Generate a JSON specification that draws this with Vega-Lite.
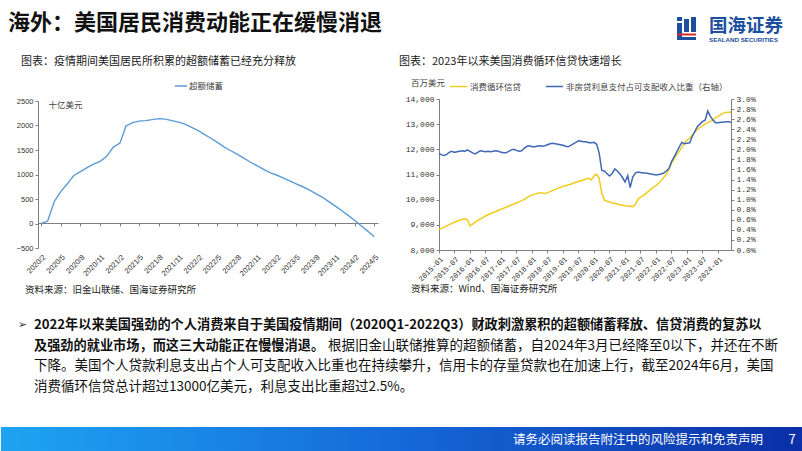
{
"$schema": "https://vega.github.io/schema/vega-lite/v6.json",
"background": "white",
"padding": 0,
"bounds": "flush",
"center": true,
"spacing": 0,
"resolve": {"scale": {"color": "independent"}, "legend": {"color": "independent"}},
"config": {
 "view": {"stroke": null},
 "font": "Noto Sans CJK SC",
 "axis": {"grid": false, "domainColor": "#7f7f7f", "tickColor": "#7f7f7f", "labelColor": "#333333", "tickSize": 3, "labelFontSize": 7.5, "domainWidth": 1},
 "legend": {"labelFont": "Noto Sans CJK SC"}
},
"hconcat": [
 {
  "width": 37, "height": 151,
  "data": {"values": [{}]},
  "layer": [
   {"mark": {"type": "rect", "x": 0, "x2": 802, "y": -99, "y2": 352, "color": "white"}, "encoding": {}},
   {"mark": {"type": "rule", "x": 0.5, "x2": 0.5, "y": -99, "y2": 328, "color": "#a6a6a6", "strokeWidth": 1}, "encoding": {}},
   {"mark": {"type": "rule", "x": 801.5, "x2": 801.5, "y": -99, "y2": 328, "color": "#a6a6a6", "strokeWidth": 1}, "encoding": {}},
   {"mark": {"type": "rule", "x": 0, "x2": 802, "y": -98.5, "y2": -98.5, "color": "#a6a6a6", "strokeWidth": 1}, "encoding": {}},
   {"mark": {"type": "text", "x": 7, "y": -76, "text": "海外：美国居民消费动能正在缓慢消退", "fontSize": 22, "fontWeight": "bold", "align": "left", "baseline": "middle", "color": "#111111"}, "encoding": {}},
   {"mark": {"type": "rule", "x": 0, "x2": 655, "y": -57, "y2": -57, "color": "#2563c0", "strokeWidth": 2.2}, "encoding": {}},
   {"mark": {"type": "rect", "x": 676, "x2": 681, "y": -82, "y2": -78, "color": "#1d4f9f"}, "encoding": {}},
   {"mark": {"type": "rect", "x": 676, "x2": 681, "y": -76, "y2": -62, "color": "#1d4f9f"}, "encoding": {}},
   {"mark": {"type": "rect", "x": 690, "x2": 695, "y": -82, "y2": -67, "color": "#1d4f9f"}, "encoding": {}},
   {"mark": {"type": "rect", "x": 683, "x2": 688, "y": -80, "y2": -67, "color": "#1d4f9f"}, "encoding": {}},
   {"mark": {"type": "rect", "x": 676, "x2": 695, "y": -65.5, "y2": -63.5, "color": "#d7282f"}, "encoding": {}},
   {"mark": {"type": "rect", "x": 676, "x2": 695, "y": -62, "y2": -59, "color": "#1d4f9f"}, "encoding": {}},
   {"mark": {"type": "text", "x": 708, "y": -73.5, "text": "国海证券", "fontSize": 18.5, "fontWeight": "bold", "align": "left", "baseline": "middle", "color": "#1d4f9f"}, "encoding": {}},
   {"mark": {"type": "text", "x": 708, "y": -59.5, "text": "SEALAND SECURITIES", "font": "Liberation Sans", "fontSize": 6.2, "fontWeight": "bold", "align": "left", "baseline": "middle", "color": "#1d4f9f"}, "encoding": {}},
   {"mark": {"type": "text", "x": 20, "y": -37, "text": "图表：疫情期间美国居民所积累的超额储蓄已经充分释放", "fontSize": 11, "align": "left", "baseline": "middle", "color": "#1a1a1a"}, "encoding": {}},
   {"mark": {"type": "text", "x": 398, "y": -37, "text": "图表：2023年以来美国消费循环信贷快速增长", "fontSize": 11, "align": "left", "baseline": "middle", "color": "#1a1a1a"}, "encoding": {}},
   {"mark": {"type": "text", "x": 410, "y": -16, "text": "百万美元", "fontSize": 8.5, "align": "left", "baseline": "middle", "color": "#444444"}, "encoding": {}},
   {"mark": {"type": "text", "x": 24, "y": 191, "text": "资料来源：旧金山联储、国海证券研究所", "fontSize": 9.5, "align": "left", "baseline": "middle", "color": "#222222"}, "encoding": {}},
   {"mark": {"type": "text", "x": 410, "y": 190, "text": "资料来源：Wind、国海证券研究所", "fontSize": 9.5, "align": "left", "baseline": "middle", "color": "#222222"}, "encoding": {}},
   {"mark": {"type": "text", "x": 17, "y": 226, "text": "➢", "font": "DejaVu Sans", "fontSize": 11, "align": "left", "baseline": "middle", "color": "#333333"}, "encoding": {}},
   {"mark": {"type": "text", "x": 33, "y": 226, "text": "2022年以来美国强劲的个人消费来自于美国疫情期间（2020Q1-2022Q3）财政刺激累积的超额储蓄释放、信贷消费的复苏以", "fontSize": 13.2, "fontWeight": "bold", "align": "left", "baseline": "middle", "color": "#111111"}, "encoding": {}},
   {"mark": {"type": "text", "x": 33, "y": 246.5, "text": "及强劲的就业市场，而这三大动能正在慢慢消退。", "fontSize": 13.2, "fontWeight": "bold", "align": "left", "baseline": "middle", "color": "#111111"}, "encoding": {}},
   {"mark": {"type": "text", "x": 327, "y": 246.5, "text": "根据旧金山联储推算的超额储蓄，自2024年3月已经降至0以下，并还在不断", "fontSize": 13.5, "align": "left", "baseline": "middle", "color": "#111111"}, "encoding": {}},
   {"mark": {"type": "text", "x": 33, "y": 267, "text": "下降。美国个人贷款利息支出占个人可支配收入比重也在持续攀升，信用卡的存量贷款也在加速上行，截至2024年6月，美国", "fontSize": 13.5, "align": "left", "baseline": "middle", "color": "#111111"}, "encoding": {}},
   {"mark": {"type": "text", "x": 33, "y": 288, "text": "消费循环信贷总计超过13000亿美元，利息支出比重超过2.5%。", "fontSize": 13.5, "align": "left", "baseline": "middle", "color": "#111111"}, "encoding": {}},
   {"mark": {"type": "rect", "x": 0, "x2": 802, "y": 328, "y2": 352,
     "fill": {"gradient": "linear", "x1": 0, "y1": 0, "x2": 1, "y2": 0, "stops": [{"offset": 0, "color": "#1ea4f2"}, {"offset": 0.5, "color": "#1569d9"}, {"offset": 1, "color": "#0b2fa6"}]}}, "encoding": {}},
   {"mark": {"type": "text", "x": 762, "y": 340.5, "text": "请务必阅读报告附注中的风险提示和免责声明", "fontSize": 12.5, "align": "right", "baseline": "middle", "color": "white"}, "encoding": {}},
   {"mark": {"type": "text", "x": 791, "y": 340.5, "text": "7", "fontSize": 13, "align": "center", "baseline": "middle", "color": "white"}, "encoding": {}}
  ]
 },
 {
  "width": 340, "height": 147,
  "data": {"values": [
   {"d": "2020-02", "v": 0}, {"d": "2020-03", "v": 50}, {"d": "2020-04", "v": 450}, {"d": "2020-05", "v": 650},
   {"d": "2020-06", "v": 810}, {"d": "2020-07", "v": 980}, {"d": "2020-08", "v": 1060}, {"d": "2020-09", "v": 1140},
   {"d": "2020-10", "v": 1210}, {"d": "2020-11", "v": 1270}, {"d": "2020-12", "v": 1370}, {"d": "2021-01", "v": 1560},
   {"d": "2021-02", "v": 1640}, {"d": "2021-03", "v": 1990}, {"d": "2021-04", "v": 2060}, {"d": "2021-05", "v": 2090},
   {"d": "2021-06", "v": 2100}, {"d": "2021-07", "v": 2120}, {"d": "2021-08", "v": 2140}, {"d": "2021-09", "v": 2130},
   {"d": "2021-10", "v": 2100}, {"d": "2021-11", "v": 2070}, {"d": "2021-12", "v": 2030}, {"d": "2022-01", "v": 1960},
   {"d": "2022-02", "v": 1895}, {"d": "2022-03", "v": 1820}, {"d": "2022-04", "v": 1740}, {"d": "2022-05", "v": 1655},
   {"d": "2022-06", "v": 1565}, {"d": "2022-07", "v": 1490}, {"d": "2022-08", "v": 1415}, {"d": "2022-09", "v": 1335},
   {"d": "2022-10", "v": 1255}, {"d": "2022-11", "v": 1180}, {"d": "2022-12", "v": 1110}, {"d": "2023-01", "v": 1040},
   {"d": "2023-02", "v": 990}, {"d": "2023-03", "v": 935}, {"d": "2023-04", "v": 875}, {"d": "2023-05", "v": 815},
   {"d": "2023-06", "v": 755}, {"d": "2023-07", "v": 690}, {"d": "2023-08", "v": 615}, {"d": "2023-09", "v": 540},
   {"d": "2023-10", "v": 450}, {"d": "2023-11", "v": 360}, {"d": "2023-12", "v": 265}, {"d": "2024-01", "v": 165},
   {"d": "2024-02", "v": 60}, {"d": "2024-03", "v": -45}, {"d": "2024-04", "v": -155}, {"d": "2024-05", "v": -270}
  ], "format": {"parse": {"d": "date:'%Y-%m'"}}},
  "mark": {"type": "line", "strokeWidth": 1.4},
  "encoding": {
   "x": {"field": "d", "type": "temporal",
    "scale": {"domain": [{"year": 2020, "month": 1, "date": 16}, {"year": 2024, "month": 5, "date": 19}]},
    "axis": {"title": null, "format": "%Y/%-m", "labelAngle": -45, "labelOverlap": false, "offset": -25, "labelPadding": 27, "labelFont": "Liberation Sans", "labelFontSize": 7.5,
     "values": [
      {"year": 2020, "month": 2, "date": 1}, {"year": 2020, "month": 5, "date": 1}, {"year": 2020, "month": 8, "date": 1}, {"year": 2020, "month": 11, "date": 1},
      {"year": 2021, "month": 2, "date": 1}, {"year": 2021, "month": 5, "date": 1}, {"year": 2021, "month": 8, "date": 1}, {"year": 2021, "month": 11, "date": 1},
      {"year": 2022, "month": 2, "date": 1}, {"year": 2022, "month": 5, "date": 1}, {"year": 2022, "month": 8, "date": 1}, {"year": 2022, "month": 11, "date": 1},
      {"year": 2023, "month": 2, "date": 1}, {"year": 2023, "month": 5, "date": 1}, {"year": 2023, "month": 8, "date": 1}, {"year": 2023, "month": 11, "date": 1},
      {"year": 2024, "month": 2, "date": 1}, {"year": 2024, "month": 5, "date": 1}
     ]}},
   "y": {"field": "v", "type": "quantitative", "scale": {"domain": [-500, 2500], "nice": false},
    "axis": {"values": [-500, 0, 500, 1000, 1500, 2000, 2500], "format": "d", "labelOverlap": false, "labelFont": "Liberation Sans", "labelFontSize": 7.5,
     "title": "十亿美元", "titleAngle": 0, "titleX": 10, "titleY": 3, "titleAlign": "left", "titleBaseline": "middle", "titleFontSize": 8.5, "titleFontWeight": "normal", "titleColor": "#444444"}},
   "color": {"datum": "超额储蓄", "type": "nominal", "scale": {"domain": ["超额储蓄"], "range": ["#5b9bd5"]},
    "legend": {"orient": "none", "legendX": 136, "legendY": -22, "title": null, "symbolType": "stroke", "symbolSize": 150, "symbolStrokeWidth": 1.5, "labelFontSize": 8.5, "labelColor": "#444444", "labelOffset": 1}}
  }
 },
 {"width": 61, "height": 151, "data": {"values": []}, "mark": {"type": "point", "opacity": 0}},
 {
  "width": 292, "height": 151,
  "data": {"values": [
   {"d": "2015-01", "c": 8830, "p": 1.92}, {"d": "2015-02", "c": 8860, "p": 1.89}, {"d": "2015-03", "c": 8900, "p": 1.88}, {"d": "2015-04", "c": 8960, "p": 1.90},
   {"d": "2015-05", "c": 9010, "p": 1.94}, {"d": "2015-06", "c": 9060, "p": 1.96}, {"d": "2015-07", "c": 9100, "p": 1.94}, {"d": "2015-08", "c": 9140, "p": 1.95},
   {"d": "2015-09", "c": 9180, "p": 1.96}, {"d": "2015-10", "c": 9210, "p": 1.97}, {"d": "2015-11", "c": 9240, "p": 1.96}, {"d": "2015-12", "c": 9200, "p": 1.99},
   {"d": "2016-01", "c": 8960, "p": 1.96}, {"d": "2016-02", "c": 9030, "p": 1.93}, {"d": "2016-03", "c": 9110, "p": 1.91}, {"d": "2016-04", "c": 9180, "p": 1.94},
   {"d": "2016-05", "c": 9230, "p": 1.97}, {"d": "2016-06", "c": 9290, "p": 1.96}, {"d": "2016-07", "c": 9350, "p": 1.95}, {"d": "2016-08", "c": 9400, "p": 1.96},
   {"d": "2016-09", "c": 9450, "p": 1.95}, {"d": "2016-10", "c": 9490, "p": 1.96}, {"d": "2016-11", "c": 9530, "p": 1.97}, {"d": "2016-12", "c": 9580, "p": 1.96},
   {"d": "2017-01", "c": 9620, "p": 1.94}, {"d": "2017-02", "c": 9660, "p": 1.93}, {"d": "2017-03", "c": 9700, "p": 1.93}, {"d": "2017-04", "c": 9750, "p": 1.96},
   {"d": "2017-05", "c": 9790, "p": 1.99}, {"d": "2017-06", "c": 9830, "p": 2.00}, {"d": "2017-07", "c": 9870, "p": 1.98}, {"d": "2017-08", "c": 9910, "p": 1.96},
   {"d": "2017-09", "c": 9960, "p": 1.97}, {"d": "2017-10", "c": 10010, "p": 2.02}, {"d": "2017-11", "c": 10080, "p": 2.06}, {"d": "2017-12", "c": 10140, "p": 2.07},
   {"d": "2018-01", "c": 10180, "p": 2.05}, {"d": "2018-02", "c": 10220, "p": 2.05}, {"d": "2018-03", "c": 10250, "p": 2.06}, {"d": "2018-04", "c": 10260, "p": 2.07},
   {"d": "2018-05", "c": 10260, "p": 2.06}, {"d": "2018-06", "c": 10250, "p": 2.07}, {"d": "2018-07", "c": 10270, "p": 2.09}, {"d": "2018-08", "c": 10320, "p": 2.11},
   {"d": "2018-09", "c": 10370, "p": 2.12}, {"d": "2018-10", "c": 10410, "p": 2.11}, {"d": "2018-11", "c": 10450, "p": 2.10}, {"d": "2018-12", "c": 10490, "p": 2.09},
   {"d": "2019-01", "c": 10530, "p": 2.08}, {"d": "2019-02", "c": 10550, "p": 2.06}, {"d": "2019-03", "c": 10590, "p": 2.05}, {"d": "2019-04", "c": 10610, "p": 2.08},
   {"d": "2019-05", "c": 10650, "p": 2.11}, {"d": "2019-06", "c": 10690, "p": 2.14}, {"d": "2019-07", "c": 10720, "p": 2.17}, {"d": "2019-08", "c": 10750, "p": 2.16},
   {"d": "2019-09", "c": 10790, "p": 2.15}, {"d": "2019-10", "c": 10830, "p": 2.15}, {"d": "2019-11", "c": 10850, "p": 2.13}, {"d": "2019-12", "c": 10780, "p": 2.13},
   {"d": "2020-01", "c": 10950, "p": 2.14}, {"d": "2020-02", "c": 11010, "p": 2.10}, {"d": "2020-03", "c": 10850, "p": 1.93}, {"d": "2020-04", "c": 10250, "p": 1.58},
   {"d": "2020-05", "c": 9990, "p": 1.57}, {"d": "2020-06", "c": 9940, "p": 1.52}, {"d": "2020-07", "c": 9920, "p": 1.47}, {"d": "2020-08", "c": 9870, "p": 1.52},
   {"d": "2020-09", "c": 9850, "p": 1.61}, {"d": "2020-10", "c": 9830, "p": 1.57}, {"d": "2020-11", "c": 9800, "p": 1.51}, {"d": "2020-12", "c": 9780, "p": 1.44},
   {"d": "2021-01", "c": 9760, "p": 1.35}, {"d": "2021-02", "c": 9750, "p": 1.48}, {"d": "2021-03", "c": 9740, "p": 1.24}, {"d": "2021-04", "c": 9720, "p": 1.45},
   {"d": "2021-05", "c": 9800, "p": 1.53}, {"d": "2021-06", "c": 10020, "p": 1.55}, {"d": "2021-07", "c": 10100, "p": 1.54}, {"d": "2021-08", "c": 10150, "p": 1.53},
   {"d": "2021-09", "c": 10240, "p": 1.53}, {"d": "2021-10", "c": 10330, "p": 1.52}, {"d": "2021-11", "c": 10420, "p": 1.51}, {"d": "2021-12", "c": 10500, "p": 1.50},
   {"d": "2022-01", "c": 10570, "p": 1.49}, {"d": "2022-02", "c": 10660, "p": 1.50}, {"d": "2022-03", "c": 10760, "p": 1.51}, {"d": "2022-04", "c": 10880, "p": 1.53},
   {"d": "2022-05", "c": 11010, "p": 1.57}, {"d": "2022-06", "c": 11200, "p": 1.62}, {"d": "2022-07", "c": 11450, "p": 1.75}, {"d": "2022-08", "c": 11620, "p": 1.85},
   {"d": "2022-09", "c": 11780, "p": 1.95}, {"d": "2022-10", "c": 11920, "p": 2.05}, {"d": "2022-11", "c": 12080, "p": 2.14}, {"d": "2022-12", "c": 12250, "p": 2.11},
   {"d": "2023-01", "c": 12370, "p": 2.12}, {"d": "2023-02", "c": 12450, "p": 2.13}, {"d": "2023-03", "c": 12560, "p": 2.25}, {"d": "2023-04", "c": 12680, "p": 2.35},
   {"d": "2023-05", "c": 12790, "p": 2.45}, {"d": "2023-06", "c": 12860, "p": 2.50}, {"d": "2023-07", "c": 12930, "p": 2.55}, {"d": "2023-08", "c": 13000, "p": 2.58},
   {"d": "2023-09", "c": 13060, "p": 2.76}, {"d": "2023-10", "c": 13110, "p": 2.66}, {"d": "2023-11", "c": 13160, "p": 2.58}, {"d": "2023-12", "c": 13260, "p": 2.53},
   {"d": "2024-01", "c": 13310, "p": 2.53}, {"d": "2024-02", "c": 13380, "p": 2.54}, {"d": "2024-03", "c": 13440, "p": 2.54}, {"d": "2024-04", "c": 13460, "p": 2.55},
   {"d": "2024-05", "c": 13470, "p": 2.55}, {"d": "2024-06", "c": 13480, "p": 2.54}
  ], "format": {"parse": {"d": "date:'%Y-%m'"}}},
  "encoding": {
   "x": {"field": "d", "type": "temporal",
    "scale": {"domain": [{"year": 2015, "month": 1, "date": 1}, {"year": 2024, "month": 6, "date": 1}]},
    "axis": {"title": null, "format": "%Y-%m", "labelAngle": -45, "labelOverlap": false, "tickCount": {"interval": "month", "step": 6}, "labelFont": "Liberation Mono", "labelFontSize": 7.5, "labelPadding": 2}}
  },
  "layer": [
   {
    "mark": {"type": "line", "strokeWidth": 1.5},
    "encoding": {
     "y": {"field": "c", "type": "quantitative", "scale": {"domain": [8000, 14000], "nice": false},
      "axis": {"orient": "left", "values": [8000, 9000, 10000, 11000, 12000, 13000, 14000], "format": ",d", "labelFont": "Liberation Mono", "labelFontSize": 8, "title": null}},
     "color": {"datum": "消费循环信贷", "type": "nominal",
      "scale": {"domain": ["消费循环信贷", "非房贷利息支付占可支配收入比重（右轴）"], "range": ["#f2cc1c", "#4068b4"]},
      "legend": {"orient": "none", "legendX": 10, "legendY": -22, "direction": "horizontal", "title": null, "symbolType": "stroke", "symbolSize": 289, "symbolStrokeWidth": 1.5, "labelFontSize": 8.5, "labelColor": "#444444", "labelOffset": 2, "columnPadding": 21, "labelLimit": 300}}
    }
   },
   {
    "mark": {"type": "line", "strokeWidth": 1.5},
    "encoding": {
     "y": {"field": "p", "type": "quantitative", "scale": {"domain": [0, 3], "nice": false},
      "axis": {"orient": "right", "values": [0, 0.2, 0.4, 0.6, 0.8, 1.0, 1.2, 1.4, 1.6, 1.8, 2.0, 2.2, 2.4, 2.6, 2.8, 3.0], "labelExpr": "format(datum.value, '.1f') + '%'", "labelFont": "Liberation Mono", "labelFontSize": 8, "title": null}},
     "color": {"datum": "非房贷利息支付占可支配收入比重（右轴）", "type": "nominal"}
    }
   }
  ],
  "resolve": {"scale": {"y": "independent"}}
 }
]
}
